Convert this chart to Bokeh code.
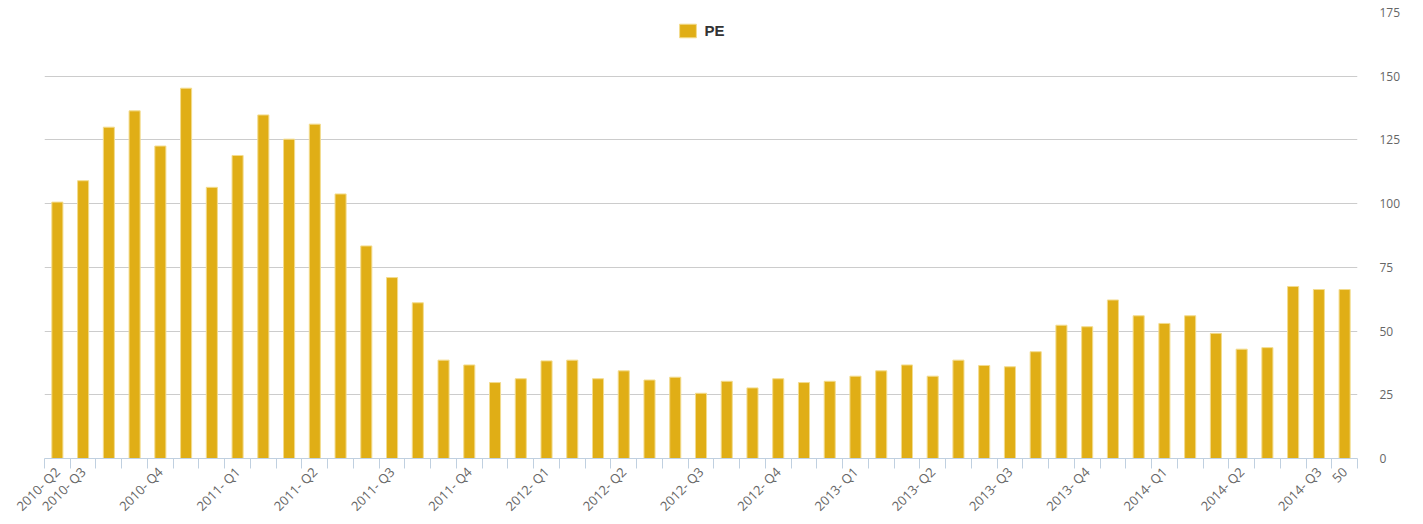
import math
from bokeh.plotting import figure
from bokeh.models import FixedTicker, Legend, LegendItem, Range1d
from bokeh.embed import file_html
from bokeh.resources import INLINE

# ---- data ----
pe_values = [100.6, 109.0, 130.0, 136.4, 122.6, 145.3, 106.4, 118.9, 134.8, 125.3,
             131.2, 103.8, 83.4, 71.0, 61.1, 38.6, 36.7, 29.8, 31.3, 38.3,
             38.6, 31.3, 34.4, 30.8, 31.9, 25.6, 30.3, 27.7, 31.3, 29.8,
             30.3, 32.3, 34.4, 36.7, 32.3, 38.6, 36.5, 36.0, 41.9, 52.3,
             51.7, 62.2, 56.0, 53.0, 56.0, 49.1, 42.9, 43.5, 67.5, 66.3,
             66.3]
label_index = [0, 1, 4, 7, 10, 13, 16, 19, 22, 25, 28, 31, 34, 37, 40, 43, 46, 49, 50]
label_text = ["2010- Q2", "2010- Q3", "2010- Q4", "2011- Q1", "2011- Q2", "2011- Q3",
              "2011- Q4", "2012- Q1", "2012- Q2", "2012- Q3", "2012- Q4", "2013- Q1",
              "2013- Q2", "2013- Q3", "2013- Q4", "2014- Q1", "2014- Q2", "2014- Q3", "50"]
y_ticks = [0, 25, 50, 75, 100, 125, 150, 175]
series_name = "PE"

x = list(range(len(pe_values)))
n = len(pe_values)

BAR = "#E0AE16"
FONT = "Open Sans"

p = figure(width=1423, height=524, output_backend="svg", toolbar_location=None,
           x_range=Range1d(-0.5, n - 0.5), y_range=Range1d(0, 175),
           y_axis_location="right",
           min_border_left=44, min_border_top=12, min_border_right=66, min_border_bottom=66)
p.outline_line_color = None
p.background_fill_color = "white"
p.border_fill_color = "white"

r = p.vbar(x=x, top=pe_values, width=0.43, fill_color=BAR, line_color="#f3dc8e", line_width=1)

# x axis
xa = p.xaxis[0]
xa.ticker = FixedTicker(ticks=label_index, minor_ticks=[i - 0.5 for i in range(n + 1)])
xa.major_label_overrides = {i: t for i, t in zip(label_index, label_text)}
xa.major_label_orientation = math.pi / 4
xa.major_tick_out = 0
xa.major_tick_in = 0
xa.minor_tick_out = 10
xa.minor_tick_in = 0
xa.minor_tick_line_color = "#c0d0e0"
xa.axis_line_color = "#c0d0e0"
xa.major_label_text_color = "#666666"
xa.major_label_text_font = FONT
xa.major_label_text_font_size = "13px"
xa.major_label_standoff = 1

# y axis
ya = p.yaxis[0]
ya.ticker = FixedTicker(ticks=y_ticks)
ya.axis_line_color = None
ya.major_tick_line_color = None
ya.minor_tick_line_color = None
ya.major_label_text_color = "#666666"
ya.major_label_text_font = FONT
ya.major_label_text_font_size = "12px"
ya.major_label_standoff = 16

p.xgrid.grid_line_color = None
p.ygrid.grid_line_color = "#cccccc"
p.ygrid.grid_line_width = 1

legend = Legend(items=[LegendItem(label=series_name, renderers=[r])],
                location="top_center", orientation="horizontal",
                border_line_color=None, background_fill_alpha=0,
                margin=10, padding=4, glyph_width=21, glyph_height=17,
                label_standoff=7, label_text_font="Liberation Sans", label_text_font_size="15px",
                label_text_font_style="bold", label_text_color="#333333")
p.add_layout(legend)

open("out.html", "w").write(file_html(p, INLINE))
